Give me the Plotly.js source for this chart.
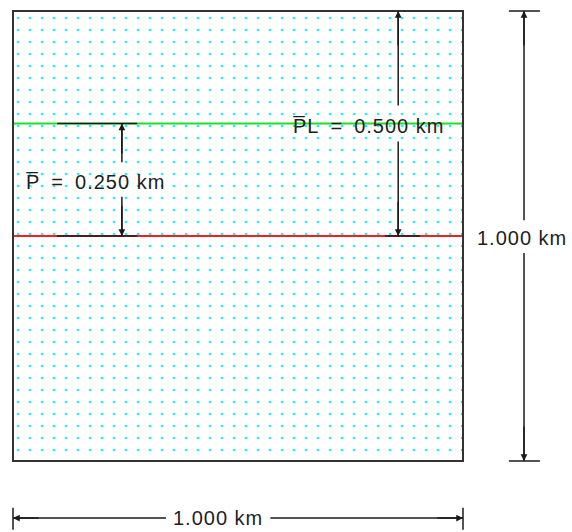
<!DOCTYPE html>
<html><head><meta charset="utf-8">
<script src="https://cdn.plot.ly/plotly-3.0.1.min.js"></script>
<style>html,body{margin:0;padding:0;background:#fff}
svg text.annotation-text{letter-spacing:1px}</style>
</head><body><div id="chart" style="width:572px;height:532px"></div>
<script>
// ---- data (km) ----
var regionX = [0, 1, 1, 0, 0];
var regionY = [0, 0, 1, 1, 0];
var sideLength = 1.0;          // box side, km
var plLevel = 0.5;             // red line height
var pLevel = 0.75;             // green line height
var pValue = 0.250;            // P̄
var plValue = 0.500;           // P̄L
var labelP = "P\u0305\u2002=\u2002" + pValue.toFixed(3) + " km";
var labelPL = "P\u0305L\u2002=\u2002" + plValue.toFixed(3) + " km";
var labelSide = sideLength.toFixed(3) + " km";

var ink = "#1a1a1a";
var font = {family: "Liberation Sans, Arial, sans-serif", size: 20, color: "#1e1e1e"};

var traces = [
  {x: regionX, y: regionY, mode: "lines", fill: "toself", line: {width: 0},
   fillcolor: "rgba(0,0,0,0)",
   fillpattern: {shape: ".", fgcolor: "#22eeff", bgcolor: "#ffffff", size: 12, solidity: 0.04},
   hoverinfo: "skip", showlegend: false},
  {x: [0, sideLength], y: [pLevel, pLevel], mode: "lines", line: {color: "#22dd22", width: 2}, showlegend: false},
  {x: [0, sideLength], y: [plLevel, plLevel], mode: "lines", line: {color: "#ee2222", width: 2}, showlegend: false}
];

function seg(x0, y0, x1, y1, w) {
  return {type: "line", xref: "x", yref: "y", x0: x0, y0: y0, x1: x1, y1: y1,
          line: {color: ink, width: w || 1.5}};
}
function arrow(xh, yh, xt, yt) {
  return {x: xh, y: yh, ax: xt, ay: yt, xref: "x", yref: "y", axref: "x", ayref: "y",
          text: "", showarrow: true, arrowhead: 2, arrowsize: 0.9, arrowwidth: 1.5, arrowcolor: ink, standoff: 0};
}

var xP = 0.242, xPL = 0.856, xR = 1.1356, yB = -0.1267;
var shapes = [
  {type: "rect", xref: "x", yref: "y", x0: 0, y0: 0, x1: sideLength, y1: sideLength,
   line: {color: "#333", width: 2}},
  // P̄ ticks
  seg(0.098, pLevel, 0.276, pLevel), seg(0.098, plLevel, 0.276, plLevel),
  // P̄L tick
  seg(0.827, plLevel, 0.904, plLevel),
  // right dimension
  seg(1.102, sideLength, 1.171, sideLength), seg(1.102, 0, 1.171, 0),
  seg(xR, sideLength, xR, 0.535), seg(xR, 0.462, xR, 0),
  // bottom dimension
  seg(0, -0.104, 0, -0.153), seg(sideLength, -0.104, sideLength, -0.153),
  seg(0, yB, 0.34, yB), seg(0.572, yB, sideLength, yB),
  // P̄ vertical
  seg(xP, pLevel, xP, 0.664), seg(xP, 0.587, xP, plLevel),
  // P̄L vertical
  seg(xPL, sideLength, xPL, 0.79), seg(xPL, 0.71, xPL, plLevel)
];

var annotations = [
  {x: 0.025, y: 0.62, xref: "x", yref: "y", text: labelP, showarrow: false, xanchor: "left", font: font},
  {x: 0.789, y: 0.745, xref: "x", yref: "y", text: labelPL, showarrow: false, xanchor: "center", font: font},
  {x: 1.13, y: 0.4956, xref: "x", yref: "y", text: labelSide, showarrow: false, xanchor: "center", font: font},
  {x: 0.456, y: yB, xref: "x", yref: "y", text: labelSide, showarrow: false, xanchor: "center", font: font},
  arrow(xP, pLevel, xP, 0.68), arrow(xP, plLevel, xP, 0.57),
  arrow(xPL, sideLength, xPL, 0.92), arrow(xPL, plLevel, xPL, 0.58),
  arrow(xR, sideLength, xR, 0.92), arrow(xR, 0, xR, 0.08),
  arrow(0, yB, 0.06, yB), arrow(sideLength, yB, 0.94, yB)
];

var layout = {
  width: 572, height: 532, margin: {l: 0, r: 0, t: 0, b: 0},
  paper_bgcolor: "#fff", plot_bgcolor: "#fff",
  xaxis: {range: [-13/450, 559/450], visible: false, fixedrange: true},
  yaxis: {range: [-71/450, 461/450], visible: false, fixedrange: true},
  shapes: shapes, annotations: annotations, showlegend: false
};
Plotly.newPlot("chart", traces, layout, {staticPlot: true, displayModeBar: false});
</script></body></html>
